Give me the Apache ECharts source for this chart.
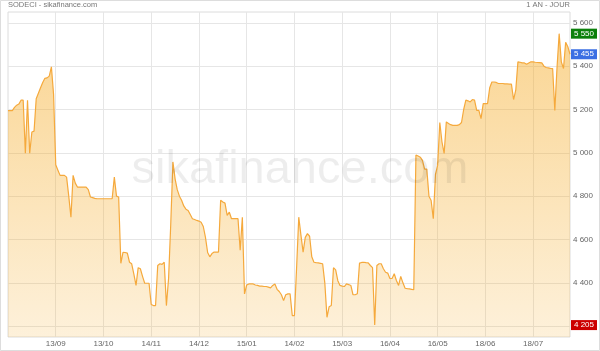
<!DOCTYPE html>
<html>
<head>
<meta charset="utf-8">
<script src="https://cdn.jsdelivr.net/npm/echarts@6/dist/echarts.min.js"></script>
<style>
html,body{margin:0;padding:0;background:#fff;}
#chart{width:600px;height:351px;}
</style>
</head>
<body>
<div id="chart"></div>
<script>
// Closing prices, one per trading session
const values = [
5195,5195,5195,5210,5220,5225,5243,5243,4998,5243,
4998,5096,5100,5250,5275,5300,5325,5344,5346,5354,
5397,5270,4945,4920,4896,4896,4896,4888,4800,4703,
4896,4860,4842,4842,4842,4842,4842,4830,4796,4793,
4790,4788,4788,4788,4788,4788,4788,4788,4788,4888,
4800,4796,4490,4541,4540,4537,4495,4488,4440,4388,
4470,4465,4430,4398,4398,4398,4300,4295,4295,4480,
4488,4485,4495,4295,4420,4670,4958,4880,4830,4800,
4781,4755,4740,4734,4715,4696,4692,4688,4685,4680,
4660,4610,4540,4520,4535,4542,4542,4542,4781,4773,
4768,4711,4726,4696,4696,4696,4696,4550,4703,4349,
4390,4395,4395,4395,4390,4388,4385,4385,4383,4383,
4380,4377,4388,4395,4370,4360,4345,4318,4345,4349,
4349,4249,4249,4470,4703,4620,4542,4610,4627,4615,
4520,4495,4493,4492,4490,4488,4400,4241,4290,4295,
4470,4460,4410,4388,4385,4383,4395,4392,4388,4345,
4345,4350,4491,4494,4495,4493,4492,4480,4470,4205,
4480,4488,4488,4465,4449,4445,4420,4420,4442,4411,
4388,4430,4400,4375,4373,4372,4370,4368,4990,4985,
4980,4965,4925,4925,4800,4780,4696,4900,4942,5140,
5050,4997,5143,5135,5130,5127,5127,5127,5130,5140,
5200,5243,5240,5235,5246,5243,5196,5196,5158,5227,
5227,5227,5300,5327,5327,5325,5320,5320,5320,5318,
5318,5317,5317,5246,5289,5420,5418,5415,5415,5409,
5415,5420,5420,5418,5417,5416,5415,5400,5394,5392,
5390,5389,5196,5390,5550,5420,5389,5510,5490,5455
];
// x-axis tick labels, one every `labelStep` sessions
const tickLabels = ['13/09','13/10','14/11','14/12','15/01','14/02','15/03','16/04','16/05','18/06','18/07'];
const labelStep = 22;
// y-axis
const yLabelValues = [4400,4600,4800,5000,5200,5400,5600];
const yGridValues = [4200,4400,4600,4800,5000,5200,5400,5600];
const yMin = 4150, yMax = 5650;

const categories = values.map((v, i) => String(i));
const maxVal = Math.max(...values);
const minVal = Math.min(...values);
const lastVal = values[values.length - 1];

const FONT = "'Liberation Sans', Arial, sans-serif";
const fmt = v => String(v).replace(/\B(?=(\d{3})+(?!\d))/g, ' ');
const showIdx = (i) => i > 0 && i % labelStep === 0;

const tag = (val, bg) => ({
  yAxis: val,
  lineStyle: { color: 'rgba(0,0,0,0)', width: 0 },
  label: {
    show: true, position: 'end', distance: 1,
    formatter: () => fmt(val),
    color: '#fff', backgroundColor: bg,
    fontFamily: FONT, fontSize: 8, padding: [1, 3, 1, 3]
  }
});

const chart = echarts.init(document.getElementById('chart'), null, { renderer: 'canvas' });
chart.setOption({
  animation: false,
  backgroundColor: '#fff',
  title: [
    { text: 'SODECI - sikafinance.com', left: 8, top: 1, padding: 0,
      textStyle: { fontFamily: FONT, fontSize: 7.5, fontWeight: 'normal', color: '#777' } },
    { text: '1 AN - JOUR', right: 30, top: 1, padding: 0,
      textStyle: { fontFamily: FONT, fontSize: 7.5, fontWeight: 'normal', color: '#777' } }
  ],
  grid: { left: 8, right: 30, top: 12, bottom: 14, show: true, borderColor: '#dcdcdc', borderWidth: 1, containLabel: false },
  xAxis: {
    type: 'category', data: categories, boundaryGap: false,
    axisLine: { show: false }, axisTick: { show: false },
    axisLabel: {
      interval: (i) => showIdx(i),
      formatter: (v, i) => tickLabels[i / labelStep - 1] || '',
      color: '#666', fontFamily: FONT, fontSize: 8, margin: 3
    },
    splitLine: { show: true, interval: (i) => showIdx(i), lineStyle: { color: '#e6e6e6', width: 1 } }
  },
  yAxis: {
    type: 'value', position: 'right', min: yMin, max: yMax, scale: true,
    axisLine: { show: false },
    axisTick: { show: false, customValues: yGridValues },
    axisLabel: { customValues: yLabelValues, formatter: v => fmt(v), color: '#666', fontFamily: FONT, fontSize: 8, margin: 3 },
    splitLine: { show: true, lineStyle: { color: '#e6e6e6', width: 1 } }
  },
  graphic: [
    { type: 'text', z: 100, silent: true,
      style: { x: 300, y: 170, text: 'sikafinance.com', fill: 'rgba(0,0,0,0.07)',
        font: "47px 'Liberation Sans', Arial, sans-serif", textAlign: 'center', textVerticalAlign: 'middle' } },
    { type: 'rect', z: 100, silent: true,
      shape: { x: 0.5, y: 0.5, width: 599, height: 350 },
      style: { fill: 'none', stroke: '#dddddd', lineWidth: 1 } }
  ],
  series: [{
    type: 'line', data: values, symbol: 'none', smooth: false,
    lineStyle: { color: '#f5a93c', width: 1.2 },
    areaStyle: {
      color: new echarts.graphic.LinearGradient(0, 0, 0, 1, [
        { offset: 0, color: 'rgba(245,170,35,0.7)' },
        { offset: 1, color: 'rgba(245,170,35,0.24)' }
      ])
    },
    markLine: {
      silent: true, symbol: 'none', animation: false,
      data: [ tag(maxVal, '#0b800b'), tag(lastVal, '#3b6fe3'), tag(minVal, '#cc0000') ]
    }
  }]
});
</script>
</body>
</html>
